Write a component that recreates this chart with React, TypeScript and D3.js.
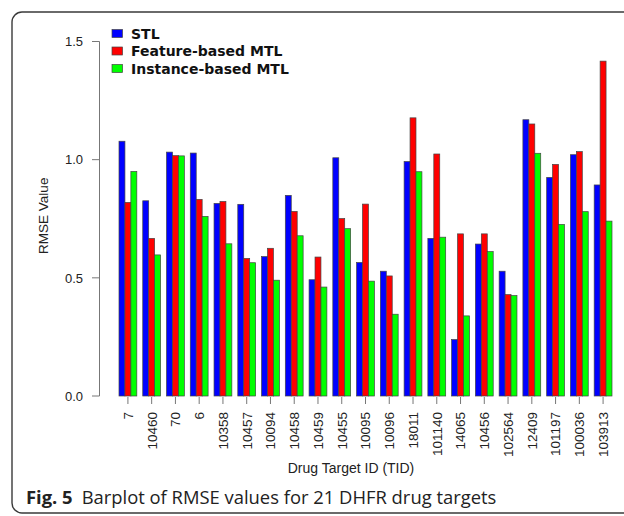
import React from "react";
import * as d3 from "d3";

// Drug target IDs (x categories)
const targets = [
  "7", "10460", "70", "6", "10358", "10457", "10094", "10458", "10459", "10455",
  "10095", "10096", "18011", "101140", "14065", "10456", "102564", "12409",
  "101197", "100036", "103913",
];

// RMSE per method
const stl = [
  1.078, 0.826, 1.032, 1.028, 0.815, 0.811, 0.59, 0.849, 0.492, 1.008,
  0.565, 0.528, 0.992, 0.667, 0.239, 0.643, 0.528, 1.169, 0.925, 1.021, 0.893,
];
const featureMtl = [
  0.819, 0.667, 1.017, 0.832, 0.823, 0.582, 0.625, 0.781, 0.588, 0.751,
  0.812, 0.508, 1.177, 1.024, 0.686, 0.686, 0.429, 1.151, 0.98, 1.034, 1.417,
];
const instanceMtl = [
  0.95, 0.597, 1.016, 0.76, 0.644, 0.564, 0.49, 0.678, 0.461, 0.708,
  0.486, 0.346, 0.949, 0.672, 0.339, 0.611, 0.425, 1.027, 0.726, 0.78, 0.74,
];

const seriesNames = ["STL", "Feature-based MTL", "Instance-based MTL"];
const seriesColors = ["#0000ff", "#ff0000", "#00ff00"];
const yTicks = [0, 0.5, 1.0, 1.5];

const W = 624;
const H = 516;

export default function App() {
  const series = [stl, featureMtl, instanceMtl];

  const x = d3
    .scaleBand<string>()
    .domain(targets)
    .range([119, 612])
    .paddingInner(0.25)
    .paddingOuter(0);

  const xSub = d3
    .scaleBand<number>()
    .domain([0, 1, 2])
    .range([0, x.bandwidth()]);

  const y = d3.scaleLinear().domain([0, 1.5]).range([396, 41.5]);

  const axisFont = "Liberation Sans, Arial, Helvetica, sans-serif";

  return (
    <svg
      width={W}
      height={H}
      style={{ position: "absolute", left: 0, top: 0, background: "#fff" }}
    >
      {/* figure frame */}
      <rect
        x={12}
        y={12}
        width={640}
        height={501}
        rx={10}
        fill="none"
        stroke="#3a3a3a"
        strokeWidth={1.4}
      />

      {/* bars */}
      {targets.map((t, i) => (
        <g key={t} transform={`translate(${x(t)},0)`}>
          {series.map((s, k) => (
            <rect
              key={k}
              x={xSub(k)}
              y={y(s[i])}
              width={xSub.bandwidth()}
              height={y(0) - y(s[i])}
              fill={seriesColors[k]}
              stroke="#444"
              strokeWidth={0.7}
            />
          ))}
        </g>
      ))}

      {/* y axis */}
      <g fontFamily={axisFont} fontSize={13} fill="#222">
        <line x1={99.5} x2={99.5} y1={y(0)} y2={y(1.5)} stroke="#777" />
        {yTicks.map((v) => (
          <g key={v}>
            <line x1={92} x2={99.5} y1={y(v)} y2={y(v)} stroke="#777" />
            <text x={83} y={y(v)} dy="0.36em" textAnchor="end">
              {d3.format(".1f")(v)}
            </text>
          </g>
        ))}
        <text
          transform={`translate(48,${(y(0) + y(1.5)) / 2 - 3}) rotate(-90)`}
          textAnchor="middle"
          fontSize={13.5}
        >
          RMSE Value
        </text>
      </g>

      {/* x axis ticks and labels */}
      <g fontFamily={axisFont} fontSize={13.5} fill="#222">
        {targets.map((t) => {
          const cx = (x(t) as number) + x.bandwidth() / 2;
          return (
            <g key={t}>
              <line x1={cx} x2={cx} y1={397} y2={404} stroke="#777" />
              <text
                transform={`translate(${cx},412) rotate(-90)`}
                dy="0.36em"
                textAnchor="end"
              >
                {t}
              </text>
            </g>
          );
        })}
        <text x={351} y={473} textAnchor="middle" fontSize={14}>
          Drug Target ID (TID)
        </text>
      </g>

      {/* legend */}
      <g fontFamily="DejaVu Sans, Verdana, sans-serif" fontWeight="bold" fontSize={14} fill="#111">
        {seriesNames.map((n, k) => (
          <g key={n} transform={`translate(112,${33.5 + k * 17.5})`}>
            <rect
              x={0}
              y={-4}
              width={10.5}
              height={8}
              fill={seriesColors[k]}
              stroke="#444"
              strokeWidth={0.7}
            />
            <text x={19} y={0} dy="0.36em">
              {n}
            </text>
          </g>
        ))}
      </g>

      {/* caption */}
      <text
        x={26}
        y={504}
        fontFamily="Open Sans, Noto Sans, sans-serif"
        fontSize={18.4}
        fill="#222"
      >
        <tspan fontWeight="bold">Fig. 5</tspan>
        <tspan dx={9}>Barplot of RMSE values for 21 DHFR drug targets</tspan>
      </text>
    </svg>
  );
}
